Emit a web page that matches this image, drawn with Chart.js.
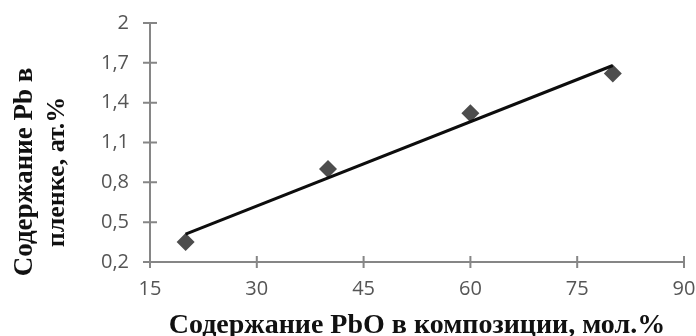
<!DOCTYPE html>
<html>
<head>
<meta charset="utf-8">
<script src="https://cdn.jsdelivr.net/npm/chart.js@4.4.1/dist/chart.umd.min.js"></script>
<style>
  html, body { margin: 0; padding: 0; background: #fff; }
</style>
</head>
<body>
<canvas id="chart" width="696" height="336"></canvas>
<script>
// PbO in composition (mol.%) vs Pb in film (at.%)
const pboContent = [20, 40, 60, 80];
const pbContent = [0.35, 0.9, 1.32, 1.62];
// linear trendline ends
const trendX = [20, 80];
const trendY = [0.41, 1.68];
const xTicks = [15, 30, 45, 60, 75, 90];
const yTicks = [0.2, 0.5, 0.8, 1.1, 1.4, 1.7, 2];
const xTitle = "Содержание PbO в композиции, мол.%";
const yTitle = ["Содержание Pb в", "пленке, ат.%"];

const axisColor = "#868686";
const labelColor = "#555555";

// Excel-style crossing tick marks + axis titles
const axisDecor = {
    id: "axisDecor",
    afterDraw(chart) {
        const { ctx, chartArea, scales: { x, y } } = chart;
        ctx.save();
        ctx.strokeStyle = axisColor;
        ctx.lineWidth = 2;
        ctx.beginPath();
        xTicks.forEach(v => {
            const px = x.getPixelForValue(v);
            ctx.moveTo(px, chartArea.bottom - 6);
            ctx.lineTo(px, chartArea.bottom + 6);
        });
        yTicks.forEach(v => {
            const py = y.getPixelForValue(v);
            ctx.moveTo(chartArea.left - 7, py);
            ctx.lineTo(chartArea.left + 7, py);
        });
        ctx.stroke();

        ctx.fillStyle = "#111";
        ctx.textAlign = "center";
        ctx.textBaseline = "alphabetic";
        ctx.font = "bold 28px 'Liberation Serif', serif";
        ctx.fillText(xTitle, (chartArea.left + chartArea.right) / 2, 333);

        ctx.translate(0, 172);
        ctx.rotate(-Math.PI / 2);
        ctx.font = "bold 27px 'Liberation Serif', serif";
        ctx.fillText(yTitle[0], 0, 32);
        ctx.font = "bold 26px 'Liberation Serif', serif";
        ctx.fillText(yTitle[1], 0, 64);
        ctx.restore();
    }
};

const fmt = v => String(Number(v.toFixed(1))).replace(".", ",");

new Chart(document.getElementById("chart"), {
    type: "scatter",
    data: {
        datasets: [{
            label: "trend",
            type: "line",
            data: trendX.map((v, i) => ({ x: v, y: trendY[i] })),
            borderColor: "#0d0d0d",
            borderWidth: 3,
            pointRadius: 0,
            fill: false,
            order: 0
        }, {
            label: "Pb",
            data: pboContent.map((v, i) => ({ x: v, y: pbContent[i] })),
            pointStyle: "rectRot",
            pointRadius: 9,
            backgroundColor: "#4d4d4d",
            borderWidth: 0,
            order: 1
        }]
    },
    options: {
        responsive: false,
        animation: false,
        layout: { padding: { top: 23, right: 12, left: 0, bottom: 0 } },
        plugins: {
            legend: { display: false },
            tooltip: { enabled: false }
        },
        scales: {
            x: {
                type: "linear",
                min: 15,
                max: 90,
                afterBuildTicks: s => { s.ticks = xTicks.map(v => ({ value: v })); },
                afterFit: s => {
                    s.height = 74;
                    s.paddingLeft = 0;
                    s.paddingRight = 0;
                },
                grid: { display: true, drawOnChartArea: false, drawTicks: false },
                border: { color: axisColor, width: 2 },
                ticks: {
                    color: labelColor,
                    padding: 15,
                    font: { family: "'Open Sans', sans-serif", size: 20 },
                    callback: v => fmt(v)
                }
            },
            y: {
                type: "linear",
                min: 0.2,
                max: 2,
                afterBuildTicks: s => { s.ticks = yTicks.map(v => ({ value: v })); },
                afterFit: s => {
                    s.width = 150;
                    s.paddingTop = 0;
                    s.paddingBottom = 0;
                },
                grid: { display: true, drawOnChartArea: false, drawTicks: false },
                border: { color: axisColor, width: 2 },
                ticks: {
                    color: labelColor,
                    padding: 21,
                    font: { family: "'Open Sans', sans-serif", size: 20 },
                    callback: v => fmt(v)
                }
            }
        }
    },
    plugins: [axisDecor]
});
</script>
</body>
</html>
